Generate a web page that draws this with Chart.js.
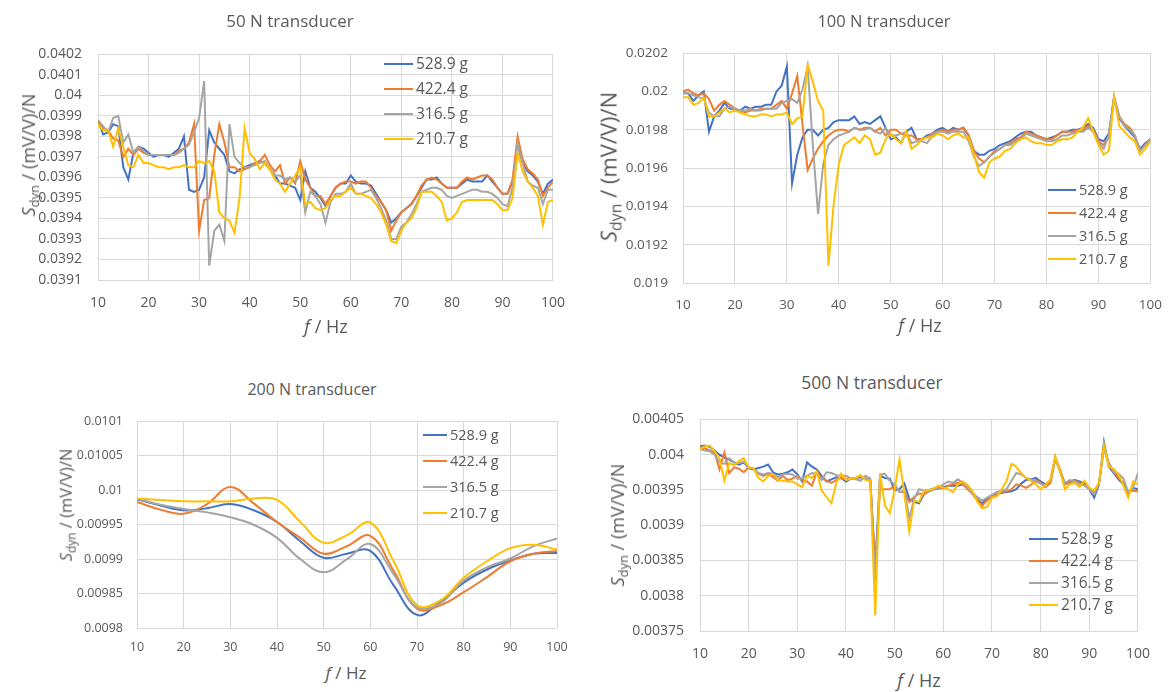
<!DOCTYPE html>
<html lang="en">
<head>
<meta charset="UTF-8">
<title>Dynamic sensitivity of force transducers</title>
<script src="https://cdn.jsdelivr.net/npm/chart.js"></script>
<style>
    body {
        margin: 0;
        width: 1176px;
        height: 692px;
        background: #ffffff;
        position: relative;
        overflow: hidden;
        font-family: 'Open Sans', sans-serif;
        color: #595959;
    }
    canvas { position: absolute; }
    .lbl {
        position: absolute;
        transform: translate(-50%, -50%);
        white-space: nowrap;
        line-height: 1;
        z-index: 2;
    }
    .ytitle { transform: translate(-50%, -50%) rotate(-90deg); }
    sub { font-size: 0.72em; position: relative; top: 0.3em; vertical-align: baseline; }
</style>
</head>
<body>
    <div class="lbl" style="left:290px; top:20px; font-size:17px;">50 N transducer</div>
    <div class="lbl" style="left:884px; top:21px; font-size:16.5px;">100 N transducer</div>
    <div class="lbl" style="left:312px; top:389px; font-size:16px;">200 N transducer</div>
    <div class="lbl" style="left:872px; top:383px; font-size:17.5px;">500 N transducer</div>

    <div class="lbl" style="left:326px; top:326px; font-size:18px;"><i>f</i> / Hz</div>
    <div class="lbl" style="left:920px; top:325px; font-size:18px;"><i>f</i> / Hz</div>
    <div class="lbl" style="left:346px; top:672px; font-size:17px;"><i>f</i> / Hz</div>
    <div class="lbl" style="left:919px; top:680px; font-size:18px;"><i>f</i> / Hz</div>

    <div class="lbl ytitle" style="left:28px; top:155px; font-size:18px;"><i>S</i><sub>dyn</sub> / (mV/V)/N</div>
    <div class="lbl ytitle" style="left:608px; top:167px; font-size:22px;"><i>S</i><sub>dyn</sub> / (mV/V)/N</div>
    <div class="lbl ytitle" style="left:66px; top:505px; font-size:16.5px;"><i>S</i><sub>dyn</sub> / (mV/V)/N</div>
    <div class="lbl ytitle" style="left:617px; top:525px; font-size:18px;"><i>S</i><sub>dyn</sub> / (mV/V)/N</div>

    <canvas id="c50"></canvas>
    <canvas id="c100"></canvas>
    <canvas id="c200"></canvas>
    <canvas id="c500"></canvas>

<script>
const massLabels = ['528.9 g', '422.4 g', '316.5 g', '210.7 g'];
const lineColors = ['#4472C4', '#ED7D31', '#A5A5A5', '#FFC000'];

const xTicks = [10, 20, 30, 40, 50, 60, 70, 80, 90, 100];
const yTicks50 = [0.0391, 0.0392, 0.0393, 0.0394, 0.0395, 0.0396, 0.0397, 0.0398, 0.0399, 0.04, 0.0401, 0.0402];
const yTicks100 = [0.019, 0.0192, 0.0194, 0.0196, 0.0198, 0.02, 0.0202];
const yTicks200 = [0.0098, 0.00985, 0.0099, 0.00995, 0.01, 0.01005, 0.0101];
const yTicks500 = [0.00375, 0.0038, 0.00385, 0.0039, 0.00395, 0.004, 0.00405];

// frequency steps, 1 Hz
const hz = [10, 11, 12, 13, 14, 15, 16, 17, 18, 19,
    20, 21, 22, 23, 24, 25, 26, 27, 28, 29,
    30, 31, 32, 33, 34, 35, 36, 37, 38, 39,
    40, 41, 42, 43, 44, 45, 46, 47, 48, 49,
    50, 51, 52, 53, 54, 55, 56, 57, 58, 59,
    60, 61, 62, 63, 64, 65, 66, 67, 68, 69,
    70, 71, 72, 73, 74, 75, 76, 77, 78, 79,
    80, 81, 82, 83, 84, 85, 86, 87, 88, 89,
    90, 91, 92, 93, 94, 95, 96, 97, 98, 99,
    100];
// frequency steps, 5 Hz (smoothed 200 N curves)
const hz200 = [10, 15, 20, 25, 30, 35, 40, 45, 50, 55, 60, 65, 70, 75, 80, 85, 90, 95, 100];

// 50 N transducer
const t50_528g = [0.03988, 0.03981, 0.03982, 0.03986, 0.03985, 0.03965, 0.03959, 0.03972, 0.03975, 0.03974,
    0.03972, 0.03970, 0.03971, 0.03971, 0.03970, 0.03972, 0.03974, 0.03980, 0.03954, 0.03953,
    0.03954, 0.03960, 0.03983, 0.03977, 0.03974, 0.03971, 0.03963, 0.03962, 0.03964, 0.03965,
    0.03966, 0.03967, 0.03968, 0.03967, 0.03964, 0.03961, 0.03957, 0.03957, 0.03956, 0.03955,
    0.03949, 0.03963, 0.03955, 0.03953, 0.03950, 0.03946, 0.03951, 0.03955, 0.03957, 0.03957,
    0.03961, 0.03958, 0.03957, 0.03957, 0.03956, 0.03952, 0.03948, 0.03944, 0.03938, 0.03940,
    0.03943, 0.03945, 0.03947, 0.03951, 0.03955, 0.03959, 0.03959, 0.03960, 0.03957, 0.03955,
    0.03955, 0.03955, 0.03957, 0.03959, 0.03958, 0.03958, 0.03958, 0.03961, 0.03958, 0.03955,
    0.03952, 0.03952, 0.03958, 0.03976, 0.03967, 0.03963, 0.03961, 0.03958, 0.03952, 0.03957,
    0.03959];
const t50_422g = [0.03987, 0.03984, 0.03983, 0.03979, 0.03978, 0.03970, 0.03974, 0.03971, 0.03974, 0.03972,
    0.03971, 0.03971, 0.03971, 0.03971, 0.03971, 0.03971, 0.03973, 0.03974, 0.03977, 0.03986,
    0.03934, 0.03949, 0.03950, 0.03971, 0.03986, 0.03977, 0.03965, 0.03965, 0.03963, 0.03964,
    0.03965, 0.03967, 0.03968, 0.03971, 0.03966, 0.03963, 0.03966, 0.03957, 0.03960, 0.03957,
    0.03968, 0.03959, 0.03955, 0.03951, 0.03951, 0.03947, 0.03951, 0.03955, 0.03957, 0.03958,
    0.03958, 0.03957, 0.03958, 0.03958, 0.03955, 0.03951, 0.03948, 0.03944, 0.03934, 0.03939,
    0.03943, 0.03945, 0.03947, 0.03951, 0.03956, 0.03959, 0.03960, 0.03959, 0.03957, 0.03955,
    0.03955, 0.03955, 0.03958, 0.03960, 0.03959, 0.03960, 0.03961, 0.03961, 0.03959, 0.03955,
    0.03952, 0.03952, 0.03959, 0.03980, 0.03969, 0.03964, 0.03962, 0.03959, 0.03951, 0.03955,
    0.03958];
const t50_316g = [0.03988, 0.03985, 0.03982, 0.03989, 0.03990, 0.03977, 0.03981, 0.03972, 0.03975, 0.03973,
    0.03971, 0.03971, 0.03971, 0.03971, 0.03971, 0.03971, 0.03972, 0.03974, 0.03976, 0.03982,
    0.03989, 0.04007, 0.03917, 0.03934, 0.03937, 0.03929, 0.03986, 0.03970, 0.03967, 0.03965,
    0.03965, 0.03966, 0.03967, 0.03968, 0.03964, 0.03961, 0.03961, 0.03959, 0.03960, 0.03958,
    0.03961, 0.03943, 0.03953, 0.03951, 0.03947, 0.03938, 0.03948, 0.03952, 0.03952, 0.03953,
    0.03957, 0.03952, 0.03952, 0.03953, 0.03954, 0.03950, 0.03945, 0.03939, 0.03930, 0.03930,
    0.03936, 0.03938, 0.03942, 0.03947, 0.03953, 0.03954, 0.03955, 0.03955, 0.03954, 0.03951,
    0.03950, 0.03951, 0.03952, 0.03953, 0.03954, 0.03954, 0.03953, 0.03953, 0.03952, 0.03950,
    0.03947, 0.03946, 0.03955, 0.03977, 0.03967, 0.03958, 0.03956, 0.03955, 0.03947, 0.03954,
    0.03954];
const t50_210g = [0.03986, 0.03983, 0.03983, 0.03975, 0.03984, 0.03975, 0.03966, 0.03965, 0.03971, 0.03967,
    0.03967, 0.03966, 0.03965, 0.03965, 0.03964, 0.03965, 0.03965, 0.03966, 0.03965, 0.03965,
    0.03968, 0.03967, 0.03968, 0.03963, 0.03943, 0.03940, 0.03939, 0.03933, 0.03950, 0.03984,
    0.03972, 0.03969, 0.03964, 0.03967, 0.03964, 0.03959, 0.03957, 0.03953, 0.03957, 0.03961,
    0.03965, 0.03947, 0.03948, 0.03945, 0.03944, 0.03945, 0.03949, 0.03951, 0.03951, 0.03953,
    0.03955, 0.03952, 0.03952, 0.03951, 0.03950, 0.03947, 0.03943, 0.03937, 0.03929, 0.03928,
    0.03934, 0.03938, 0.03940, 0.03945, 0.03953, 0.03953, 0.03953, 0.03951, 0.03948, 0.03939,
    0.03940, 0.03943, 0.03948, 0.03949, 0.03949, 0.03949, 0.03949, 0.03949, 0.03949, 0.03947,
    0.03944, 0.03944, 0.03950, 0.03972, 0.03963, 0.03958, 0.03955, 0.03951, 0.03937, 0.03948,
    0.03949];

// 100 N transducer
const t100_528g = [0.01999, 0.01999, 0.01995, 0.01998, 0.02000, 0.01979, 0.01987, 0.01990, 0.01994, 0.01991,
    0.01991, 0.01990, 0.01992, 0.01991, 0.01992, 0.01992, 0.01993, 0.01993, 0.02000, 0.02003,
    0.02013, 0.01952, 0.01967, 0.01976, 0.01980, 0.01980, 0.01977, 0.01980, 0.01981, 0.01984,
    0.01985, 0.01985, 0.01985, 0.01987, 0.01983, 0.01984, 0.01983, 0.01985, 0.01987, 0.01981,
    0.01975, 0.01976, 0.01973, 0.01979, 0.01981, 0.01975, 0.01975, 0.01977, 0.01978, 0.01980,
    0.01981, 0.01979, 0.01981, 0.01980, 0.01981, 0.01977, 0.01969, 0.01967, 0.01967, 0.01969,
    0.01970, 0.01972, 0.01973, 0.01974, 0.01976, 0.01978, 0.01979, 0.01979, 0.01977, 0.01976,
    0.01975, 0.01976, 0.01977, 0.01979, 0.01979, 0.01980, 0.01980, 0.01981, 0.01983, 0.01981,
    0.01975, 0.01974, 0.01978, 0.01997, 0.01986, 0.01982, 0.01979, 0.01976, 0.01970, 0.01973,
    0.01975];
const t100_422g = [0.02000, 0.02001, 0.01999, 0.01998, 0.01999, 0.01996, 0.01990, 0.01993, 0.01995, 0.01993,
    0.01991, 0.01990, 0.01989, 0.01990, 0.01990, 0.01991, 0.01991, 0.01991, 0.01993, 0.01995,
    0.01991, 0.01999, 0.02008, 0.01983, 0.01959, 0.01965, 0.01970, 0.01974, 0.01977, 0.01979,
    0.01980, 0.01980, 0.01979, 0.01981, 0.01980, 0.01981, 0.01981, 0.01979, 0.01981, 0.01977,
    0.01980, 0.01980, 0.01978, 0.01977, 0.01977, 0.01975, 0.01975, 0.01976, 0.01978, 0.01979,
    0.01980, 0.01979, 0.01980, 0.01980, 0.01981, 0.01977, 0.01969, 0.01965, 0.01963, 0.01966,
    0.01969, 0.01970, 0.01972, 0.01973, 0.01975, 0.01976, 0.01979, 0.01978, 0.01977, 0.01976,
    0.01975, 0.01975, 0.01977, 0.01979, 0.01979, 0.01979, 0.01980, 0.01980, 0.01982, 0.01980,
    0.01974, 0.01972, 0.01976, 0.01997, 0.01987, 0.01983, 0.01981, 0.01977, 0.01969, 0.01972,
    0.01975];
const t100_316g = [0.01999, 0.01999, 0.01998, 0.01997, 0.01996, 0.01989, 0.01987, 0.01987, 0.01991, 0.01992,
    0.01991, 0.01990, 0.01990, 0.01991, 0.01990, 0.01990, 0.01991, 0.01991, 0.01991, 0.01994,
    0.01995, 0.01996, 0.01994, 0.02001, 0.02013, 0.01972, 0.01936, 0.01962, 0.01972, 0.01975,
    0.01977, 0.01978, 0.01979, 0.01981, 0.01980, 0.01980, 0.01981, 0.01979, 0.01978, 0.01981,
    0.01977, 0.01977, 0.01978, 0.01979, 0.01973, 0.01974, 0.01974, 0.01973, 0.01977, 0.01979,
    0.01979, 0.01978, 0.01979, 0.01979, 0.01979, 0.01974, 0.01966, 0.01961, 0.01963, 0.01966,
    0.01968, 0.01970, 0.01972, 0.01972, 0.01974, 0.01975, 0.01978, 0.01977, 0.01976, 0.01975,
    0.01974, 0.01974, 0.01975, 0.01977, 0.01977, 0.01978, 0.01979, 0.01979, 0.01981, 0.01979,
    0.01973, 0.01970, 0.01977, 0.01997, 0.01987, 0.01982, 0.01980, 0.01977, 0.01969, 0.01972,
    0.01975];
const t100_210g = [0.01997, 0.01997, 0.01993, 0.01994, 0.01997, 0.01987, 0.01987, 0.01989, 0.01991, 0.01989,
    0.01990, 0.01989, 0.01988, 0.01987, 0.01987, 0.01988, 0.01988, 0.01987, 0.01988, 0.01988,
    0.01989, 0.01983, 0.01986, 0.01987, 0.02014, 0.02005, 0.01995, 0.01990, 0.01909, 0.01941,
    0.01962, 0.01972, 0.01974, 0.01976, 0.01973, 0.01977, 0.01975, 0.01967, 0.01968, 0.01975,
    0.01978, 0.01975, 0.01973, 0.01979, 0.01970, 0.01972, 0.01975, 0.01976, 0.01976, 0.01978,
    0.01977, 0.01975, 0.01977, 0.01978, 0.01976, 0.01976, 0.01967, 0.01958, 0.01955, 0.01963,
    0.01965, 0.01966, 0.01969, 0.01970, 0.01973, 0.01975, 0.01976, 0.01974, 0.01973, 0.01973,
    0.01972, 0.01972, 0.01974, 0.01975, 0.01975, 0.01976, 0.01979, 0.01981, 0.01986, 0.01979,
    0.01972, 0.01967, 0.01969, 0.01997, 0.01982, 0.01979, 0.01976, 0.01974, 0.01967, 0.01970,
    0.01974];

// 200 N transducer (5 Hz steps)
const t200_528g = [0.009987, 0.009978, 0.009971, 0.009974, 0.009980, 0.009971, 0.009954, 0.009926, 0.009902, 0.009908,
    0.009912, 0.009862, 0.009819, 0.009838, 0.009866, 0.009885, 0.009898, 0.009908, 0.009909];
const t200_422g = [0.009983, 0.009972, 0.009966, 0.009980, 0.010005, 0.009981, 0.009954, 0.009931, 0.009908, 0.009919,
    0.009934, 0.009883, 0.009828, 0.009833, 0.009852, 0.009874, 0.009897, 0.009908, 0.009912];
const t200_316g = [0.009988, 0.009979, 0.009973, 0.009968, 0.009961, 0.009950, 0.009931, 0.009900, 0.009881, 0.009900,
    0.009922, 0.009878, 0.009830, 0.009836, 0.009869, 0.009888, 0.009901, 0.009919, 0.009930];
const t200_210g = [0.009988, 0.009986, 0.009984, 0.009984, 0.009984, 0.009988, 0.009986, 0.009954, 0.009924, 0.009935,
    0.009953, 0.009897, 0.009833, 0.009840, 0.009873, 0.009897, 0.009916, 0.009921, 0.009914];

// 500 N transducer
const t500_528g = [0.004012, 0.004013, 0.004011, 0.004006, 0.004000, 0.003996, 0.003993, 0.003989, 0.003986, 0.003989,
    0.003981, 0.003979, 0.003981, 0.003983, 0.003986, 0.003975, 0.003972, 0.003973, 0.003975, 0.003979,
    0.003972, 0.003962, 0.003989, 0.003983, 0.003979, 0.003970, 0.003962, 0.003965, 0.003968, 0.003967,
    0.003962, 0.003966, 0.003967, 0.003968, 0.003966, 0.003963, 0.003840, 0.003970, 0.003967, 0.003966,
    0.003949, 0.003951, 0.003959, 0.003937, 0.003933, 0.003931, 0.003944, 0.003948, 0.003951, 0.003952,
    0.003954, 0.003956, 0.003956, 0.003956, 0.003958, 0.003953, 0.003947, 0.003936, 0.003931, 0.003937,
    0.003942, 0.003944, 0.003946, 0.003947, 0.003948, 0.003951, 0.003959, 0.003964, 0.003965, 0.003967,
    0.003962, 0.003958, 0.003962, 0.003996, 0.003976, 0.003958, 0.003962, 0.003964, 0.003962, 0.003959,
    0.003951, 0.003939, 0.003958, 0.004018, 0.003983, 0.003974, 0.003965, 0.003958, 0.003944, 0.003953,
    0.003951];
const t500_422g = [0.004010, 0.004009, 0.004006, 0.004003, 0.003979, 0.004003, 0.003974, 0.003982, 0.003980, 0.003975,
    0.003982, 0.003980, 0.003973, 0.003970, 0.003973, 0.003968, 0.003963, 0.003970, 0.003964, 0.003966,
    0.003970, 0.003964, 0.003962, 0.003956, 0.003976, 0.003967, 0.003963, 0.003960, 0.003964, 0.003967,
    0.003965, 0.003966, 0.003967, 0.003970, 0.003965, 0.003963, 0.003840, 0.003951, 0.003951, 0.003951,
    0.003956, 0.003947, 0.003947, 0.003933, 0.003940, 0.003945, 0.003944, 0.003949, 0.003951, 0.003953,
    0.003952, 0.003956, 0.003958, 0.003960, 0.003958, 0.003951, 0.003944, 0.003935, 0.003928, 0.003935,
    0.003941, 0.003943, 0.003947, 0.003948, 0.003951, 0.003958, 0.003956, 0.003953, 0.003957, 0.003964,
    0.003960, 0.003954, 0.003960, 0.003993, 0.003979, 0.003958, 0.003960, 0.003963, 0.003960, 0.003956,
    0.003952, 0.003948, 0.003960, 0.004010, 0.003987, 0.003976, 0.003967, 0.003960, 0.003947, 0.003949,
    0.003948];
const t500_316g = [0.004008, 0.004006, 0.004005, 0.004000, 0.003989, 0.003987, 0.003995, 0.003989, 0.003988, 0.003990,
    0.003982, 0.003980, 0.003974, 0.003972, 0.003974, 0.003973, 0.003968, 0.003972, 0.003973, 0.003972,
    0.003966, 0.003967, 0.003970, 0.003974, 0.003973, 0.003964, 0.003975, 0.003974, 0.003971, 0.003970,
    0.003970, 0.003966, 0.003965, 0.003963, 0.003970, 0.003966, 0.003820, 0.003972, 0.003973, 0.003963,
    0.003958, 0.003947, 0.003949, 0.003910, 0.003937, 0.003951, 0.003949, 0.003950, 0.003952, 0.003953,
    0.003958, 0.003962, 0.003960, 0.003965, 0.003960, 0.003953, 0.003945, 0.003940, 0.003935, 0.003939,
    0.003943, 0.003947, 0.003949, 0.003951, 0.003963, 0.003974, 0.003972, 0.003967, 0.003965, 0.003962,
    0.003959, 0.003956, 0.003964, 0.003994, 0.003976, 0.003960, 0.003964, 0.003962, 0.003958, 0.003957,
    0.003951, 0.003944, 0.003960, 0.004009, 0.003989, 0.003976, 0.003973, 0.003966, 0.003947, 0.003953,
    0.003974];
const t500_210g = [0.004008, 0.004012, 0.004013, 0.004005, 0.003995, 0.003963, 0.003988, 0.003985, 0.003991, 0.003995,
    0.003982, 0.003981, 0.003967, 0.003962, 0.003970, 0.003972, 0.003964, 0.003963, 0.003962, 0.003962,
    0.003958, 0.003954, 0.003970, 0.003967, 0.003976, 0.003949, 0.003940, 0.003931, 0.003960, 0.003973,
    0.003964, 0.003966, 0.003967, 0.003971, 0.003964, 0.003963, 0.003772, 0.003973, 0.003928, 0.003917,
    0.003951, 0.003993, 0.003944, 0.003891, 0.003935, 0.003933, 0.003948, 0.003949, 0.003952, 0.003956,
    0.003953, 0.003951, 0.003947, 0.003958, 0.003962, 0.003957, 0.003948, 0.003933, 0.003924, 0.003926,
    0.003939, 0.003941, 0.003951, 0.003963, 0.003987, 0.003983, 0.003974, 0.003967, 0.003963, 0.003958,
    0.003951, 0.003957, 0.003965, 0.003998, 0.003976, 0.003951, 0.003958, 0.003960, 0.003954, 0.003963,
    0.003953, 0.003949, 0.003960, 0.004014, 0.003983, 0.003980, 0.003972, 0.003956, 0.003939, 0.003962,
    0.003958];

Chart.defaults.font.family = "'Open Sans', sans-serif";
Chart.defaults.color = '#595959';

// legend drawn inside the plot area, offsets relative to chartArea
const insideLegend = {
    id: 'insideLegend',
    afterDatasetsDraw(chart, args, opts) {
        const { ctx, chartArea } = chart;
        const x0 = chartArea.left + opts.x;
        const y0 = chartArea.top + opts.y;
        ctx.save();
        ctx.font = opts.size + "px 'Open Sans', sans-serif";
        ctx.textBaseline = 'middle';
        chart.data.datasets.forEach((ds, i) => {
            const y = Math.round(y0 + i * opts.gap);
            ctx.strokeStyle = ds.borderColor;
            ctx.lineWidth = 2;
            ctx.beginPath();
            ctx.moveTo(x0, y);
            ctx.lineTo(x0 + opts.len, y);
            ctx.stroke();
            ctx.fillStyle = '#595959';
            ctx.fillText(ds.label, x0 + opts.len + 3, y + 1);
        });
        ctx.restore();
    }
};

function buildSeries(xs, lists, tension) {
    return lists.map((vals, i) => ({
        label: massLabels[i],
        data: vals.map((v, j) => ({ x: xs[j], y: v })),
        borderColor: lineColors[i],
        backgroundColor: lineColors[i],
        borderWidth: 2,
        pointRadius: 0,
        tension: tension,
        order: lists.length - i   // last series ends up on top
    }));
}

function makeChart(id, box, p) {
    const cv = document.getElementById(id);
    cv.width = box.w;
    cv.height = box.h;
    cv.style.left = box.x + 'px';
    cv.style.top = box.y + 'px';
    const grid = { color: '#D9D9D9', lineWidth: 1, drawTicks: false };
    return new Chart(cv, {
        type: 'line',
        data: { datasets: buildSeries(p.xs, p.lists, p.tension) },
        options: {
            responsive: false,
            animation: false,
            events: [],
            layout: { padding: { left: 0, top: p.padTop, right: p.padRight, bottom: 0 } },
            plugins: {
                legend: { display: false },
                tooltip: { enabled: false },
                insideLegend: p.legend
            },
            scales: {
                x: {
                    type: 'linear',
                    min: 10,
                    max: 100,
                    afterBuildTicks: s => { s.ticks = xTicks.map(v => ({ value: v })); },
                    afterFit: s => { s.height = p.xH; },
                    grid: grid,
                    border: { display: false },
                    ticks: { padding: p.xPad, font: { size: p.font }, color: '#595959', maxRotation: 0, callback: v => String(v) }
                },
                y: {
                    type: 'linear',
                    min: p.yTicks[0],
                    max: p.yTicks[p.yTicks.length - 1],
                    afterBuildTicks: s => { s.ticks = p.yTicks.map(v => ({ value: v })); },
                    afterFit: s => { s.width = p.yW; },
                    grid: grid,
                    border: { display: false },
                    ticks: { padding: p.yPad, font: { size: p.font }, color: '#595959', callback: v => String(v) }
                }
            }
        },
        plugins: [insideLegend]
    });
}

makeChart('c50', { x: 20, y: 30, w: 560, h: 290 }, {
    xs: hz, lists: [t50_528g, t50_422g, t50_316g, t50_210g], tension: 0,
    yTicks: yTicks50, yW: 78, xH: 40, padTop: 20, padRight: 24, xPad: 15, yPad: 16, font: 14,
    legend: { x: 286, y: 9.5, gap: 25, len: 29, size: 15.5 }
});

makeChart('c100', { x: 605, y: 30, w: 571, h: 295 }, {
    xs: hz, lists: [t100_528g, t100_422g, t100_316g, t100_210g], tension: 0,
    yTicks: yTicks100, yW: 78, xH: 42, padTop: 20, padRight: 17, xPad: 14, yPad: 15, font: 13.5,
    legend: { x: 365, y: 137, gap: 23, len: 28, size: 14.5 }
});

makeChart('c200', { x: 60, y: 400, w: 520, h: 260 }, {
    xs: hz200, lists: [t200_528g, t200_422g, t200_316g, t200_210g], tension: 0.4,
    yTicks: yTicks200, yW: 77, xH: 32, padTop: 18, padRight: 23, xPad: 12, yPad: 14, font: 12.5,
    legend: { x: 286, y: 13, gap: 26.3, len: 24, size: 14.5 }
});

makeChart('c500', { x: 620, y: 395, w: 545, h: 270 }, {
    xs: hz, lists: [t500_528g, t500_422g, t500_316g, t500_210g], tension: 0,
    yTicks: yTicks500, yW: 80, xH: 34, padTop: 18, padRight: 25, xPad: 15, yPad: 16, font: 14,
    legend: { x: 329, y: 120, gap: 22, len: 29, size: 15.5 }
});
</script>
</body>
</html>
